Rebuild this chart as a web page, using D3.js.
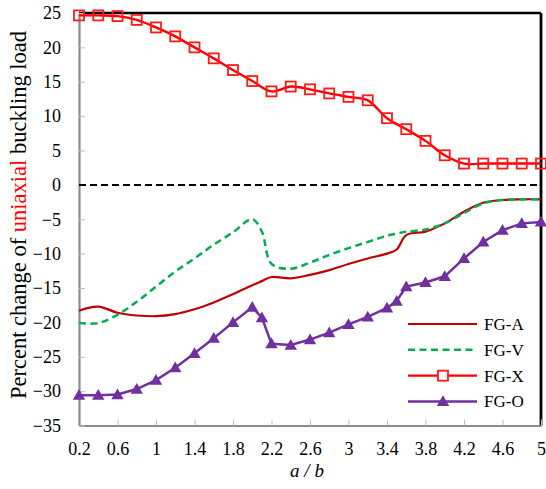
<!DOCTYPE html>
<html>
<head>
<meta charset="utf-8">
<script src="https://cdnjs.cloudflare.com/ajax/libs/d3/7.8.5/d3.min.js"></script>
<style>
  body { margin: 0; background: #fff; }
  svg { display: block; font-family: 'Liberation Serif', 'DejaVu Serif', serif; }
</style>
</head>
<body>
<svg id="chart" width="546" height="489"></svg>
<script>
// a/b values and percent change
let xTicks = [0.2, 0.6, 1, 1.4, 1.8, 2.2, 2.6, 3, 3.4, 3.8, 4.2, 4.6, 5];
let yTicks = [-35, -30, -25, -20, -15, -10, -5, 0, 5, 10, 15, 20, 25];

let curveX = [0.2, 0.4, 0.6, 0.8, 1.0, 1.2, 1.4, 1.6, 1.8, 2.0, 2.1, 2.2, 2.4, 2.6, 2.8, 3.0, 3.2, 3.4, 3.5, 3.6, 3.8, 4.0, 4.2, 4.4, 4.6, 4.8, 5.0];
let fgA = [-18.3, -17.7, -18.6, -19.0, -19.1, -18.8, -18.1, -17.1, -15.9, -14.6, -14.0, -13.4, -13.6, -13.1, -12.4, -11.5, -10.7, -10.0, -9.4, -7.3, -6.8, -5.6, -3.9, -2.6, -2.2, -2.1, -2.1];
let fgV = [-20.1, -20.1, -18.9, -17.0, -14.8, -12.6, -10.7, -8.7, -6.9, -5.0, -6.8, -11.5, -12.2, -11.3, -10.2, -9.2, -8.3, -7.4, -7.1, -6.8, -6.5, -5.6, -4.1, -2.7, -2.2, -2.1, -2.1];

let xX = [0.2, 0.4, 0.6, 0.8, 1.0, 1.2, 1.4, 1.6, 1.8, 2.0, 2.2, 2.4, 2.6, 2.8, 3.0, 3.2, 3.4, 3.6, 3.8, 4.0, 4.2, 4.4, 4.6, 4.8, 5.0];
let fgX = [24.65, 24.65, 24.55, 24.0, 22.9, 21.6, 20.0, 18.4, 16.7, 15.1, 13.6, 14.3, 13.9, 13.3, 12.8, 12.3, 9.7, 8.1, 6.4, 4.3, 3.1, 3.1, 3.1, 3.1, 3.1];

let xO = [0.2, 0.4, 0.6, 0.8, 1.0, 1.2, 1.4, 1.6, 1.8, 2.0, 2.1, 2.2, 2.4, 2.6, 2.8, 3.0, 3.2, 3.4, 3.5, 3.6, 3.8, 4.0, 4.2, 4.4, 4.6, 4.8, 5.0];
let fgO = [-30.6, -30.6, -30.5, -29.7, -28.4, -26.6, -24.5, -22.3, -20.0, -17.8, -19.3, -23.1, -23.3, -22.5, -21.5, -20.3, -19.2, -17.9, -16.9, -14.8, -14.2, -13.3, -10.7, -8.3, -6.6, -5.6, -5.4];

let seriesNames = ['FG-A', 'FG-V', 'FG-X', 'FG-O'];

let svg = d3.select('#chart');
let plotLeft = 79, plotRight = 541, plotTop = 13, plotBottom = 425.5;

let xScale = d3.scaleLinear().domain([0.2, 5]).range([plotLeft, plotRight]);
let yScale = d3.scaleLinear().domain([-35, 25]).range([plotBottom, plotTop]);

// plot border (black) then grey axes over left/bottom
svg.append('line').attr('x1', plotLeft).attr('x2', plotRight).attr('y1', plotTop).attr('y2', plotTop)
	.attr('stroke', '#000').attr('stroke-width', 2.5);
svg.append('line').attr('x1', plotRight).attr('x2', plotRight).attr('y1', plotTop).attr('y2', plotBottom)
	.attr('stroke', '#000').attr('stroke-width', 2.8);

let xAxis = svg.append('g')
	.attr('transform', `translate(0, ${plotBottom})`)
	.call(d3.axisBottom(xScale).tickValues(xTicks).tickSizeInner(-6).tickSizeOuter(0).tickFormat(d3.format('')));
xAxis.select('.domain').attr('stroke', '#8c8c8c').attr('stroke-width', 2.2);
xAxis.selectAll('.tick line').attr('stroke', '#bfbfbf').attr('stroke-width', 1);
xAxis.selectAll('.tick text').attr('y', 17).attr('font-size', 18).attr('fill', '#000')
	.attr('font-family', 'Liberation Serif');

let yAxis = svg.append('g')
	.attr('transform', `translate(${plotLeft}, 0)`)
	.call(d3.axisLeft(yScale).tickValues(yTicks).tickSizeInner(-6).tickSizeOuter(0));
yAxis.select('.domain').attr('stroke', '#8c8c8c').attr('stroke-width', 2.2);
yAxis.selectAll('.tick line').attr('stroke', '#bfbfbf').attr('stroke-width', 1);
yAxis.selectAll('.tick text').attr('x', -18).attr('font-size', 18).attr('fill', '#000')
	.attr('font-family', 'Liberation Serif');

// zero line
svg.append('line')
	.attr('x1', xScale(0.2)).attr('x2', xScale(5))
	.attr('y1', yScale(0)).attr('y2', yScale(0))
	.attr('stroke', '#000').attr('stroke-width', 2).attr('stroke-dasharray', '7,4');

let smooth = d3.curveCatmullRom.alpha(0.5);

let lineGen = (xs, curve) => d3.line()
	.x((d, i) => xScale(xs[i]))
	.y((d) => yScale(d))
	.curve(curve);

svg.append('path').datum(fgA)
	.attr('d', lineGen(curveX, smooth))
	.attr('fill', 'none').attr('stroke', '#c00000').attr('stroke-width', 2.2);

svg.append('path').datum(fgV)
	.attr('d', lineGen(curveX, smooth))
	.attr('fill', 'none').attr('stroke', '#00b050').attr('stroke-width', 2.5)
	.attr('stroke-dasharray', '7,4.5');

svg.append('path').datum(fgX)
	.attr('d', lineGen(xX, smooth))
	.attr('fill', 'none').attr('stroke', '#ff0000').attr('stroke-width', 2.4);

svg.selectAll('.sq').data(fgX).enter().append('rect')
	.attr('class', 'sq')
	.attr('x', (d, i) => xScale(xX[i]) - 5)
	.attr('y', (d) => yScale(d) - 5)
	.attr('width', 10).attr('height', 10)
	.attr('fill', 'none')
	.attr('stroke', '#ff1a1a').attr('stroke-width', 1.8);

svg.append('path').datum(fgO)
	.attr('d', lineGen(xO, d3.curveLinear))
	.attr('fill', 'none').attr('stroke', '#7030a0').attr('stroke-width', 2.5);

let tri = d3.symbol().type(d3.symbolTriangle).size(66);
svg.selectAll('.tri').data(fgO).enter().append('path')
	.attr('class', 'tri')
	.attr('d', tri)
	.attr('transform', (d, i) => `translate(${xScale(xO[i])}, ${yScale(d) + 1})`)
	.attr('fill', '#7030a0');

// legend
let legend = svg.append('g');
let legendY = d3.scalePoint().domain(seriesNames).range([324, 401.5]);
let legendStyle = {
	'FG-A': { stroke: '#c00000', dash: null, width: 2.2 },
	'FG-V': { stroke: '#00b050', dash: '7,4.5', width: 2.5 },
	'FG-X': { stroke: '#ff0000', dash: null, width: 2.4 },
	'FG-O': { stroke: '#7030a0', dash: null, width: 2.5 }
};
seriesNames.forEach((name) => {
	let y = legendY(name);
	let s = legendStyle[name];
	legend.append('line')
		.attr('x1', 408).attr('x2', 477).attr('y1', y).attr('y2', y)
		.attr('stroke', s.stroke).attr('stroke-width', s.width)
		.attr('stroke-dasharray', s.dash);
	if (name === 'FG-X') {
		legend.append('rect').attr('x', 438).attr('y', y - 5).attr('width', 10).attr('height', 10)
			.attr('fill', '#fff').attr('stroke', '#ff1a1a').attr('stroke-width', 1.8);
	}
	if (name === 'FG-O') {
		legend.append('path').attr('d', tri).attr('transform', `translate(443, ${y + 1})`).attr('fill', '#7030a0');
	}
	legend.append('text')
		.attr('x', 484).attr('y', y).attr('dy', '0.35em')
		.attr('font-size', 17)
		.text(name);
});

// axis titles
svg.append('text')
	.attr('x', 307).attr('y', 477)
	.attr('text-anchor', 'middle')
	.attr('font-size', 19).attr('font-style', 'italic')
	.text('a / b');

let yTitle = svg.append('text')
	.attr('transform', 'translate(26, 215) rotate(-90)')
	.attr('text-anchor', 'middle')
	.attr('font-size', 22.5);
yTitle.append('tspan').text('Percent change of ');
yTitle.append('tspan').attr('fill', '#ff0000').text('uniaxial');
yTitle.append('tspan').text(' buckling load');
</script>
</body>
</html>
